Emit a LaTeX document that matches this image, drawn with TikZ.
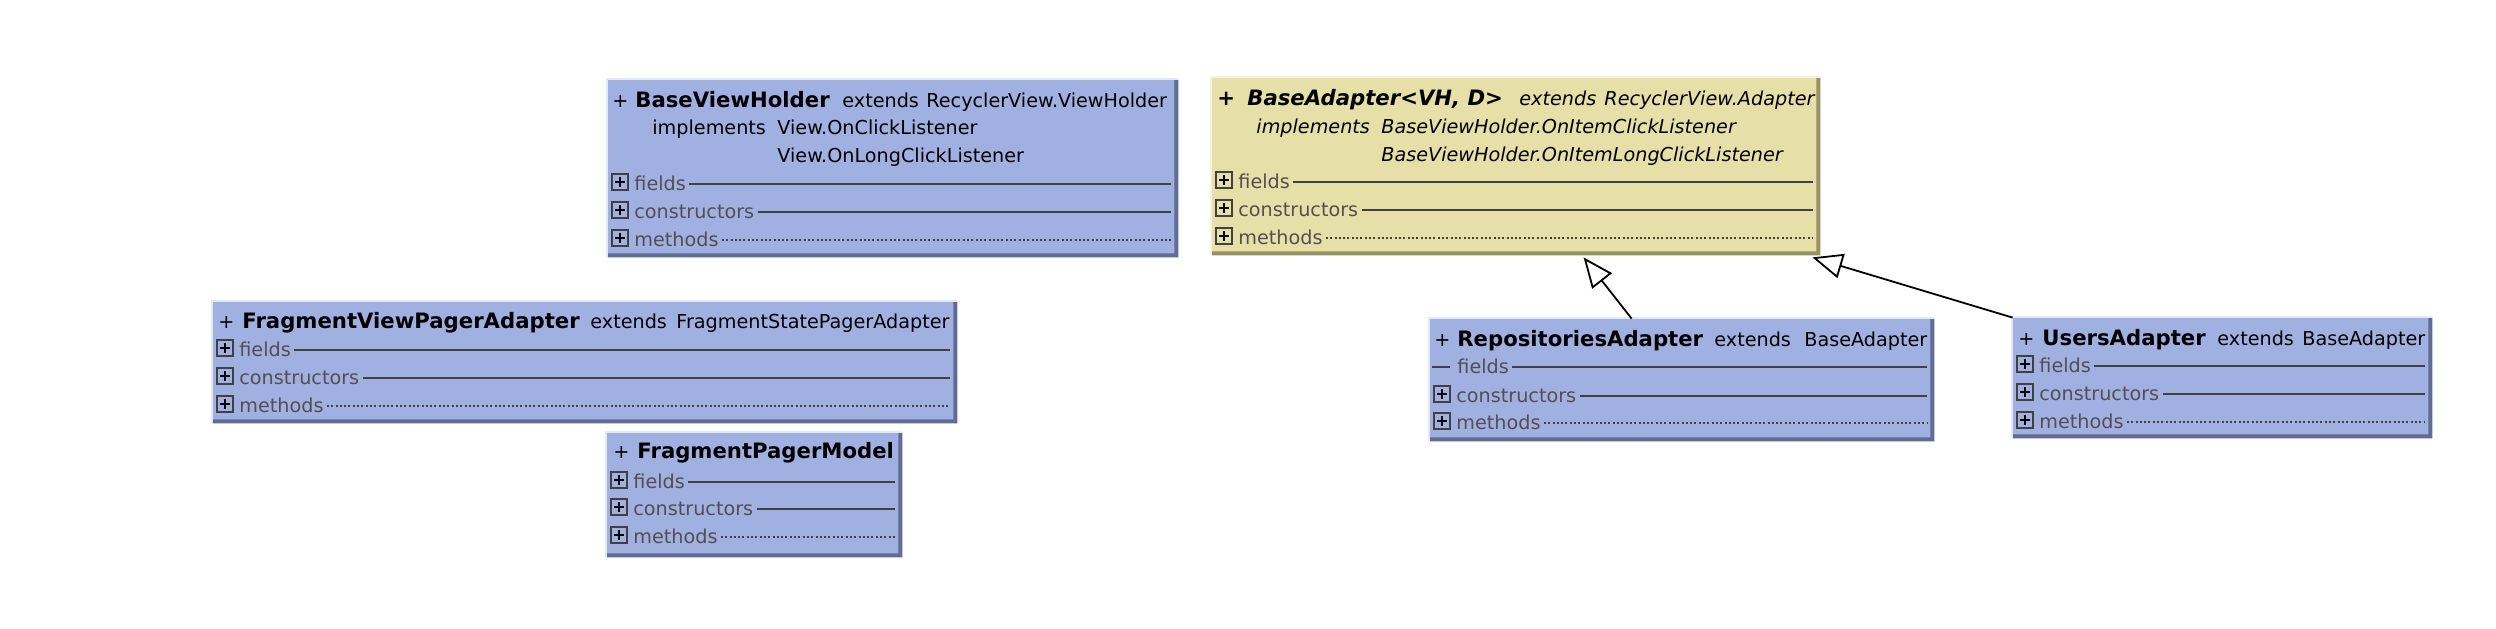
\documentclass[tikz,border=0pt]{standalone}
\usepackage{fontspec}
\setmainfont{DejaVu Sans}
\usetikzlibrary{arrows.meta,calc,fit}
\definecolor{clsblue}{RGB}{160,176,224}
\definecolor{clsblueshade}{RGB}{96,108,148}
\definecolor{clsbluelight}{RGB}{226,232,248}
\definecolor{clsyellow}{RGB}{230,224,168}
\definecolor{clsyellowshade}{RGB}{150,146,100}
\definecolor{clsyellowlight}{RGB}{246,243,216}
\definecolor{memtext}{RGB}{84,78,82}
\definecolor{rulegray}{RGB}{64,64,64}
\newcommand\hdrsize{\fontsize{9.6}{11}\selectfont}
\newcommand\namesize{\fontsize{10.6}{12}\selectfont\bfseries}
\tikzset{
  txt/.style={inner sep=0pt, anchor=base west, font=\hdrsize},
  itxt/.style={inner sep=0pt, anchor=base west, font=\hdrsize\itshape},
  cname/.style={inner sep=0pt, anchor=base west, font=\namesize},
  icname/.style={inner sep=0pt, anchor=base west, font=\namesize\itshape},
  mem/.style={inner sep=0pt, anchor=base west, font=\hdrsize, text=memtext},
  pbox/.style={draw=rulegray, line width=0.9pt, minimum size=8pt, inner sep=0pt},
  plusline/.style={draw=black, line width=0.9pt},
  solidrule/.style={draw=rulegray, line width=1pt},
  dotrule/.style={draw=rulegray, line width=1pt, dash pattern=on 1pt off 1.15pt},
  inherit/.style={draw=black, line width=0.9pt, -{Triangle[open, length=15pt, width=12.5pt, line width=0.9pt]}},
}
\newcommand\umlclass[6]{%
  \node[fit={(#2,#3) (#4,#5)}, inner sep=0pt, fill=#6] (#1) {};
  \fill[#6shade] (#1.north east) -- (#1.south east) -- (#1.south west)
     -- ([yshift=2pt]#1.south west) -- ([shift={(-2pt,2pt)}]#1.south east)
     -- ([xshift=-2pt]#1.north east) -- cycle;
  \draw[#6light, line width=0.8pt] ([xshift=-0.4pt]#1.south west)
     -- ([shift={(-0.4pt,0.4pt)}]#1.north west) -- ([yshift=0.4pt]#1.north east);
}
\newcommand\mrow[6]{%
  \node[pbox] (#1b) at (#2+12,#4-8) {};
  \draw[plusline] ([xshift=-2.3pt]#1b.center) -- ([xshift=2.3pt]#1b.center);
  \draw[plusline] ([yshift=-2.3pt]#1b.center) -- ([yshift=2.3pt]#1b.center);
  \node[mem] (#1l) at (#2+26,#4) {#5};
  \draw[#6] ($(#1l.base east)+(3,-6)$) -- (#3-7,#4-6);
}
\newcommand\mrowdash[6]{%
  \coordinate (#1b) at (#2+2,#4-6);
  \draw[solidrule] (#1b) -- ++(18,0);
  \node[mem] (#1l) at (#2+27,#4) {#5};
  \draw[#6] ($(#1l.base east)+(3,-6)$) -- (#3-7,#4-6);
}
\begin{document}
\begin{tikzpicture}[x=0.5pt,y=-0.5pt]
\useasboundingbox (0,0) rectangle (2496,628);
\fill[white] (0,0) rectangle (2496,628);

% BaseViewHolder
\umlclass{bvh}{608}{80}{1178}{257}{clsblue}
\node[txt] (bvhplus) at (612,107) {+};
\node[cname] (bvhname) at (635,107) {BaseViewHolder};
\node[txt] (bvhext) at (842,107) {extends};
\node[txt] (bvhsup) at (926,107) {RecyclerView.ViewHolder};
\node[txt] (bvhimpl) at (652,134) {implements};
\node[txt] (bvhi1) at (777,134) {View.OnClickListener};
\node[txt] (bvhi2) at (777,162) {View.OnLongClickListener};
\mrow{bvhf}{608}{1178}{190}{fields}{solidrule}
\mrow{bvhc}{608}{1178}{218}{constructors}{solidrule}
\mrow{bvhm}{608}{1178}{246}{methods}{dotrule}

% BaseAdapter
\umlclass{ba}{1212}{78}{1820}{255}{clsyellow}
\node[icname] (baplus) at (1217,105) {+};
\node[icname] (baname) at (1247,105) {BaseAdapter<VH, D>};
\node[itxt] (baext) at (1519,105) {extends};
\node[itxt] (basup) at (1604,105) {RecyclerView.Adapter};
\node[itxt] (baimpl) at (1256,133) {implements};
\node[itxt] (bai1) at (1381,133) {BaseViewHolder.OnItemClickListener};
\node[itxt] (bai2) at (1381,161) {BaseViewHolder.OnItemLongClickListener};
\mrow{baf}{1212}{1820}{188}{fields}{solidrule}
\mrow{bac}{1212}{1820}{216}{constructors}{solidrule}
\mrow{bam}{1212}{1820}{244}{methods}{dotrule}

% FragmentViewPagerAdapter
\umlclass{fvpa}{213}{302}{957}{423}{clsblue}
\node[txt] (fvpaplus) at (218,328) {+};
\node[cname] (fvpaname) at (242,328) {FragmentViewPagerAdapter};
\node[txt] (fvpaext) at (590,328) {extends};
\node[txt] (fvpasup) at (676,328) {FragmentStatePagerAdapter};
\mrow{fvpaf}{213}{957}{356}{fields}{solidrule}
\mrow{fvpac}{213}{957}{384}{constructors}{solidrule}
\mrow{fvpam}{213}{957}{412}{methods}{dotrule}

% FragmentPagerModel
\umlclass{fpm}{607}{433}{902}{557}{clsblue}
\node[txt] (fpmplus) at (613,458) {+};
\node[cname] (fpmname) at (637,458) {FragmentPagerModel};
\mrow{fpmf}{607}{902}{488}{fields}{solidrule}
\mrow{fpmc}{607}{902}{515}{constructors}{solidrule}
\mrow{fpmm}{607}{902}{543}{methods}{dotrule}

% RepositoriesAdapter
\umlclass{repo}{1430}{319}{1934}{441}{clsblue}
\node[txt] (repoplus) at (1434,346) {+};
\node[cname] (reponame) at (1457,346) {RepositoriesAdapter};
\node[txt] (repoext) at (1714,346) {extends};
\node[txt] (reposup) at (1804,346) {BaseAdapter};
\mrowdash{repof}{1430}{1934}{373}{fields}{solidrule}
\mrow{repoc}{1430}{1934}{402}{constructors}{solidrule}
\mrow{repom}{1430}{1934}{429}{methods}{dotrule}

% UsersAdapter
\umlclass{users}{2013}{318}{2432}{438}{clsblue}
\node[txt] (usersplus) at (2018,345) {+};
\node[cname] (usersname) at (2042,345) {UsersAdapter};
\node[txt] (usersext) at (2217,345) {extends};
\node[txt] (userssup) at (2302,345) {BaseAdapter};
\mrow{usersf}{2013}{2432}{372}{fields}{solidrule}
\mrow{usersc}{2013}{2432}{400}{constructors}{solidrule}
\mrow{usersm}{2013}{2432}{428}{methods}{dotrule}

% inheritance
\draw[inherit] ($(repo.north west)+(202,0)$) -- ($(ba.south west)+(372,2)$);
\draw[inherit] (users.north west) -- ($(ba.south east)+(-8,2)$);
\end{tikzpicture}
\end{document}
